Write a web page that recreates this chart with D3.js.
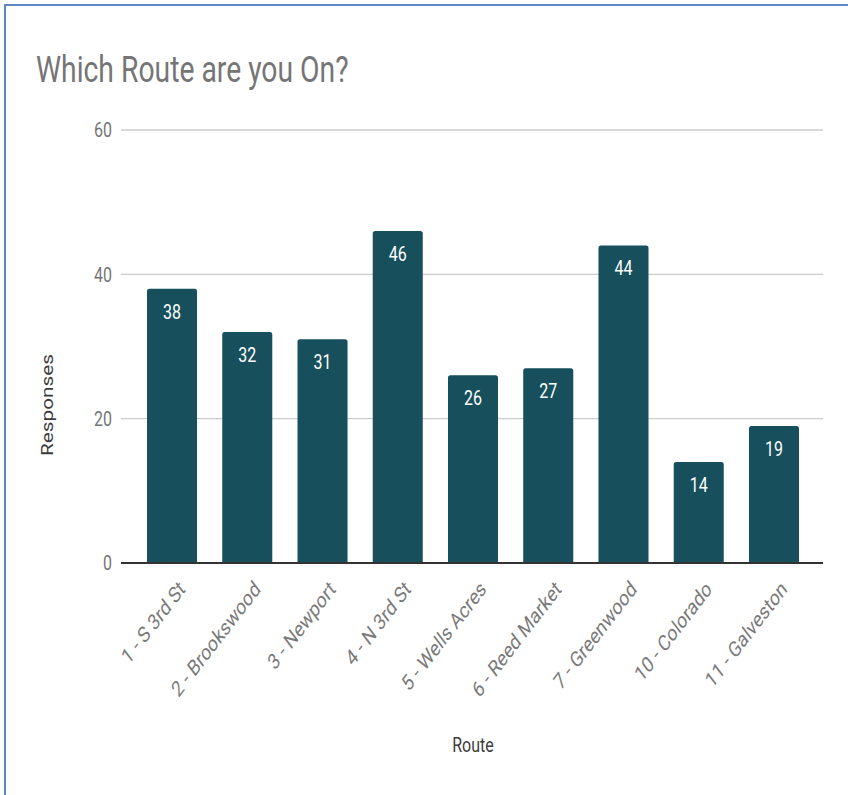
<!DOCTYPE html>
<html><head><meta charset="utf-8">
<script src="https://cdn.jsdelivr.net/npm/d3@7"></script>
<style>html,body{margin:0;padding:0;background:#fff;}svg{display:block;}</style>
</head><body>
<svg id="chart" width="848" height="795"></svg>
<script>
const categories = ["1 - S 3rd St","2 - Brookswood","3 - Newport","4 - N 3rd St","5 - Wells Acres","6 - Reed Market","7 - Greenwood","10 - Colorado","11 - Galveston"];
const responses = [38,32,31,46,26,27,44,14,19];
const yTicks = [0,20,40,60];
const title = "Which Route are you On?";
const xTitle = "Route";
const yTitle = "Responses";

const K = 1.3; // vertical stretch of text in reference
const font = "Roboto, 'Noto Sans', sans-serif";
const svg = d3.select("#chart");

// border (top & left only visible)
svg.append("path").attr("d","M5,795 L5,5 L848,5").attr("fill","none").attr("stroke","#5b87c5").attr("stroke-width",2);

const x = d3.scaleBand().domain(categories).range([134.4, 811.6]).paddingInner(0.335).paddingOuter(0.1675);
const y = d3.scaleLinear().domain([0,60]).range([563,130]);

// title
svg.append("text").attr("transform",`translate(36,82) scale(1,${K})`)
  .attr("font-family",font).attr("font-size",28.3).attr("fill","#757575").text(title);

// gridlines
svg.append("g").selectAll("line").data(yTicks.filter(d=>d>0)).join("line")
  .attr("x1",121).attr("x2",823).attr("y1",d=>y(d)).attr("y2",d=>y(d))
  .attr("stroke","#cccccc").attr("stroke-width",1.3);

// y tick labels
svg.append("g").selectAll("text").data(yTicks).join("text")
  .attr("transform",d=>`translate(112,${y(d)}) scale(1,${K})`)
  .attr("text-anchor","end").attr("dy","0.36em")
  .attr("font-family",font).attr("font-size",16).attr("fill","#757575").text(d=>d);

// bars with rounded top
const r = 2.5;
svg.append("g").selectAll("path").data(categories).join("path")
  .attr("fill","#174f5c")
  .attr("d",(c,i)=>{
    const x0=x(c), w=x.bandwidth(), yt=y(responses[i]), yb=y(0);
    return `M${x0},${yb} L${x0},${yt+r} Q${x0},${yt} ${x0+r},${yt} L${x0+w-r},${yt} Q${x0+w},${yt} ${x0+w},${yt+r} L${x0+w},${yb} Z`;
  });

// value labels
svg.append("g").selectAll("text").data(categories).join("text")
  .attr("transform",(c,i)=>`translate(${x(c)+x.bandwidth()/2},${y(responses[i])+30}) scale(1,${K})`)
  .attr("text-anchor","middle").attr("font-family",font).attr("font-size",16).attr("fill","#ffffff")
  .text((c,i)=>responses[i]);

// baseline
svg.append("line").attr("x1",121).attr("x2",823).attr("y1",y(0)).attr("y2",y(0))
  .attr("stroke","#333333").attr("stroke-width",2);

// x labels
svg.append("g").selectAll("text").data(categories).join("text")
  .attr("transform",c=>`translate(${x(c)+x.bandwidth()/2+10},585) scale(1,${K}) rotate(-45)`)
  .attr("text-anchor","end").attr("dy","0.35em")
  .attr("font-family",font).attr("font-size",17).attr("fill","#7a7a7a").text(c=>c);

// axis titles
svg.append("text").attr("transform",`translate(473,752) scale(1,${K})`)
  .attr("text-anchor","middle").attr("font-family",font).attr("font-size",16).attr("fill","#3c3c3c").text(xTitle);
svg.append("text").attr("transform",`translate(53,405) scale(1,${K}) rotate(-90)`)
  .attr("text-anchor","middle").attr("font-family",font).attr("font-size",16).attr("fill","#3c3c3c").text(yTitle);
</script>
</body></html>
